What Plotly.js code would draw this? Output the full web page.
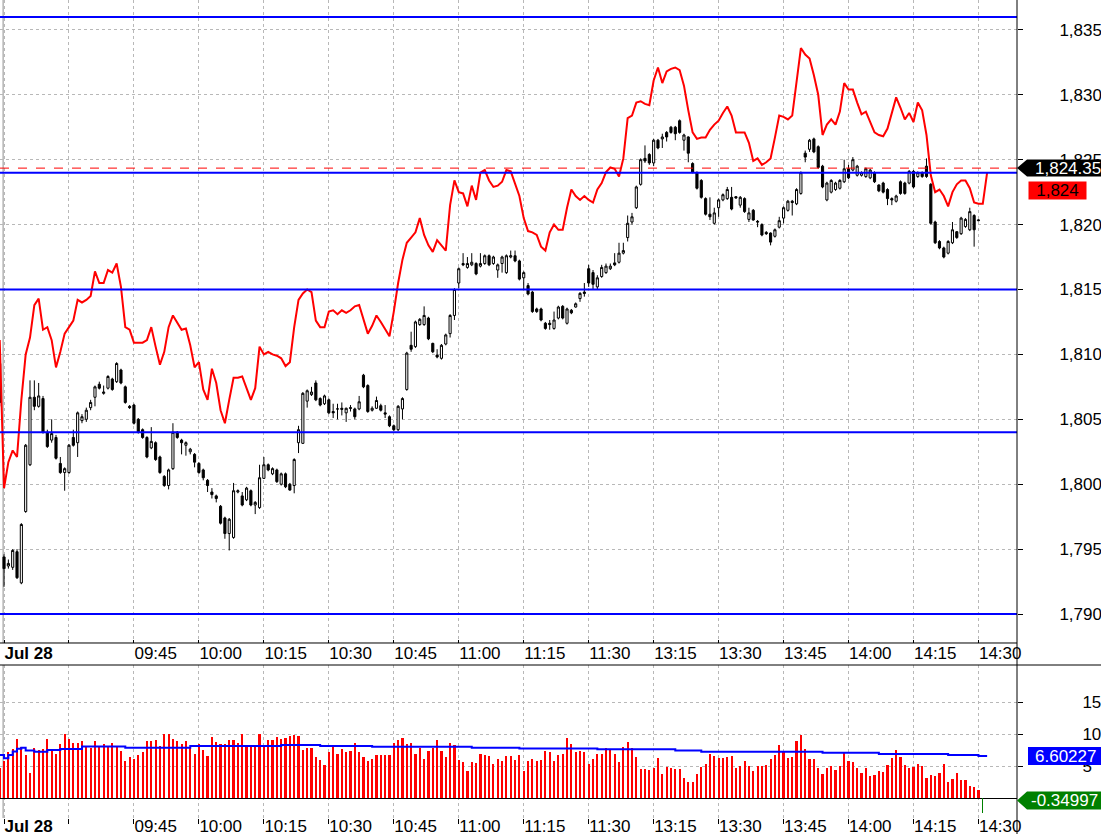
<!DOCTYPE html>
<html><head><meta charset="utf-8">
<script src="https://cdn.plot.ly/plotly-3.0.1.min.js"></script>
<style>html,body{margin:0;padding:0;background:#fff;}#chart{width:1101px;height:834px;}</style>
</head><body><div id="chart"></div>
<script>
// ---- price bars (1-minute), index 0 = last bar of previous session ----
const opens = [1809.3,1794.4,1793.7,1793.6,1794.8,1792.4,1797.9,1801.5,1806.7,1806.0,
1806.6,1804.0,1803.4,1803.6,1801.6,1800.9,1800.9,1803.6,1803.2,1804.9,
1805.0,1805.9,1806.7,1807.7,1807.0,1807.4,1808.1,1807.9,1808.8,1807.5,
1806.0,1806.1,1805.0,1804.2,1803.6,1802.8,1803.2,1802.1,1800.6,1799.9,
1801.2,1804.0,1803.4,1803.0,1802.5,1802.3,1801.6,1801.1,1800.3,1799.4,
1799.1,1798.3,1797.4,1796.2,1795.9,1799.4,1799.1,1798.8,1799.5,1798.4,
1798.2,1800.45,1801.5,1800.8,1801.1,1800.0,1800.8,1800.0,1799.9,1803.2,
1803.15,1806.4,1806.9,1807.8,1806.6,1806.2,1806.5,1805.6,1805.8,1805.85,
1805.5,1805.9,1805.8,1805.8,1808.4,1807.6,1805.7,1805.85,1806.05,1805.5,
1805.2,1804.5,1804.2,1805.8,1807.3,1810.7,1810.6,1812.3,1812.3,1812.8,
1810.85,1809.95,1809.7,1810.8,1811.6,1813.0,1815.5,1817.0,1816.7,1816.9,
1817.0,1816.8,1817.0,1817.6,1817.0,1816.5,1817.0,1816.3,1817.5,1817.6,
1817.2,1815.9,1815.3,1814.8,1813.5,1813.5,1812.4,1812.4,1812.0,1812.8,
1813.7,1812.4,1813.4,1813.65,1814.3,1814.8,1816.6,1816.3,1815.2,1816.0,
1816.3,1816.6,1817.05,1817.1,1817.8,1819.0,1820.2,1821.3,1823.1,1825.1,
1825.4,1824.75,1826.5,1826.6,1827.1,1827.5,1827.5,1828.0,1826.5,1826.75,
1824.7,1824.0,1823.4,1822.0,1820.8,1820.1,1821.3,1821.9,1822.0,1822.1,
1822.15,1821.5,1822.0,1820.4,1821.1,1820.25,1820.0,1819.4,1819.35,1819.1,
1819.8,1820.5,1821.1,1821.8,1821.6,1822.4,1825.5,1825.8,1826.6,1826.0,
1824.5,1821.9,1822.5,1822.7,1822.8,1823.3,1824.3,1824.2,1823.8,1823.8,
1823.7,1823.6,1824.0,1823.05,1823.2,1822.7,1822.0,1821.8,1823.3,1823.2,
1823.2,1824.1,1823.7,1824.0,1824.5,1823.1,1820.2,1818.7,1818.2,1817.8,
1818.6,1819.45,1819.3,1819.85,1819.6,1820.7,1820.3];
const highs = [1809.6,1794.6,1794.2,1795.0,1795.0,1797.0,1803.1,1808.0,1808.0,1807.8,
1806.8,1804.2,1805.0,1803.8,1802.1,1801.3,1803.1,1804.2,1805.6,1805.4,
1805.9,1806.5,1807.6,1807.9,1807.6,1808.4,1808.2,1809.4,1808.9,1807.6,
1806.1,1806.2,1805.1,1804.3,1803.7,1804.4,1803.3,1802.2,1800.7,1801.2,
1804.7,1804.1,1803.5,1803.3,1802.8,1802.4,1801.7,1801.2,1800.4,1799.7,
1799.2,1798.4,1797.5,1797.4,1800.1,1799.6,1799.4,1799.8,1799.6,1798.7,
1801.5,1802.1,1801.6,1801.3,1801.2,1800.9,1800.9,1800.1,1802.0,1804.5,
1807.1,1807.3,1807.5,1808.0,1806.7,1806.9,1806.6,1806.2,1806.2,1806.3,
1805.9,1806.1,1805.9,1806.8,1808.5,1807.7,1806.0,1806.75,1806.2,1806.1,
1805.3,1804.6,1806.1,1806.7,1810.2,1811.75,1812.6,1812.8,1813.7,1812.9,
1810.9,1810.4,1810.8,1811.6,1813.1,1815.1,1816.7,1817.8,1817.5,1817.8,
1817.1,1817.8,1817.7,1817.7,1817.6,1817.0,1817.6,1817.7,1818.0,1818.0,
1817.3,1816.4,1815.5,1814.9,1813.6,1813.6,1812.5,1812.65,1813.3,1813.75,
1813.8,1813.6,1813.5,1814.0,1814.8,1815.5,1816.9,1816.5,1816.1,1816.9,
1817.0,1817.0,1817.8,1818.6,1818.6,1820.7,1820.9,1823.0,1825.1,1826.1,
1825.5,1826.6,1826.6,1827.0,1827.2,1827.6,1827.6,1828.1,1827.0,1826.8,
1824.8,1824.1,1823.5,1822.1,1822.1,1821.3,1822.0,1822.4,1822.9,1822.9,
1822.2,1822.2,1822.1,1821.3,1821.2,1820.35,1820.1,1819.5,1819.4,1819.7,
1820.6,1821.4,1821.9,1821.9,1822.8,1824.1,1825.7,1826.6,1826.7,1826.1,
1824.6,1823.3,1823.5,1823.3,1823.5,1825.0,1824.6,1825.2,1824.6,1824.1,
1824.4,1824.3,1824.1,1823.1,1823.3,1822.8,1822.1,1822.3,1823.4,1823.3,
1824.2,1824.2,1824.1,1824.1,1825.1,1823.2,1820.3,1818.8,1818.3,1818.8,
1820.2,1819.5,1820.6,1820.5,1821.3,1820.8,1820.4];
const lows = [1806.0,1792.1,1793.5,1793.4,1792.7,1792.3,1797.8,1801.4,1805.7,1805.9,
1803.9,1802.8,1803.2,1801.9,1800.8,1799.5,1800.8,1802.9,1802.1,1804.7,
1804.8,1805.7,1806.0,1807.3,1806.9,1807.3,1807.2,1807.8,1807.7,1806.2,
1805.8,1804.6,1803.9,1803.5,1802.0,1802.7,1801.8,1800.8,1799.8,1799.6,
1801.1,1803.5,1802.3,1802.2,1802.3,1801.3,1800.8,1800.3,1799.4,1798.9,
1798.6,1796.9,1795.8,1794.9,1795.8,1799.3,1798.3,1798.7,1798.3,1797.7,
1798.1,1800.4,1801.0,1800.7,1800.1,1799.9,1799.7,1799.5,1799.3,1802.4,
1803.1,1805.9,1806.8,1806.4,1806.0,1806.1,1805.4,1805.1,1805.0,1805.3,
1804.8,1805.6,1805.0,1805.7,1807.4,1805.5,1805.6,1805.8,1805.6,1805.1,
1804.4,1804.1,1804.1,1805.0,1807.2,1810.2,1810.5,1812.2,1812.2,1811.1,
1810.1,1809.7,1809.6,1810.7,1811.3,1812.65,1815.1,1816.8,1816.6,1816.8,
1816.1,1816.7,1816.9,1816.8,1816.9,1815.9,1816.3,1816.2,1817.4,1817.1,
1815.7,1815.0,1814.55,1813.2,1813.2,1812.55,1811.9,1811.9,1811.9,1812.7,
1812.7,1812.3,1813.1,1813.6,1814.05,1814.45,1815.2,1815.0,1815.0,1815.9,
1816.2,1816.5,1816.8,1817.0,1817.7,1818.7,1820.0,1821.2,1823.0,1824.75,
1824.6,1824.5,1825.8,1825.9,1826.4,1827.0,1826.5,1827.0,1825.7,1824.8,
1823.95,1822.7,1822.0,1820.7,1820.35,1820.0,1820.6,1821.8,1821.9,1821.1,
1822.0,1821.3,1820.9,1820.2,1820.3,1819.8,1819.1,1819.2,1818.4,1819.0,
1819.7,1820.1,1821.0,1820.7,1821.5,1822.3,1824.8,1825.6,1825.5,1824.3,
1822.8,1821.8,1822.4,1822.6,1822.7,1823.2,1823.5,1824.1,1823.7,1823.7,
1823.6,1823.5,1823.2,1822.5,1822.4,1821.5,1821.5,1821.7,1822.3,1822.3,
1823.1,1822.8,1823.6,1823.6,1823.6,1820.0,1818.5,1818.1,1817.4,1817.7,
1818.5,1818.9,1819.2,1819.75,1819.5,1818.3,1820.25];
const closes = [1806.3,1793.5,1793.9,1794.9,1792.8,1796.9,1803.0,1806.7,1806.0,1806.8,
1804.0,1802.9,1803.9,1802.0,1800.9,1801.2,1803.0,1803.0,1805.5,1805.2,
1805.7,1806.3,1807.5,1807.4,1807.1,1808.3,1807.3,1809.3,1807.8,1806.3,
1805.9,1804.7,1804.0,1803.6,1802.1,1803.3,1801.9,1800.9,1799.9,1801.1,
1804.0,1803.6,1803.2,1803.2,1802.7,1801.7,1800.9,1800.5,1799.9,1799.2,
1798.9,1797.0,1796.2,1797.3,1799.5,1799.5,1798.4,1799.7,1798.4,1798.6,
1800.5,1801.5,1801.1,1801.2,1800.2,1800.8,1799.8,1799.55,1801.9,1804.2,
1807.0,1807.2,1807.1,1806.5,1806.1,1806.8,1805.5,1805.5,1805.8,1805.77,
1805.85,1805.85,1805.2,1806.35,1807.5,1805.6,1805.85,1806.45,1805.7,1805.4,
1804.5,1804.2,1806.0,1806.6,1810.1,1810.4,1812.5,1812.7,1813.0,1811.2,
1810.2,1809.8,1810.7,1811.5,1813.0,1815.0,1816.6,1816.9,1817.0,1817.1,
1816.2,1817.0,1817.6,1816.9,1817.5,1816.9,1817.5,1817.6,1817.6,1817.2,
1815.8,1816.3,1814.65,1813.3,1813.3,1812.65,1812.0,1812.3,1812.65,1813.65,
1812.8,1813.5,1813.2,1813.9,1814.7,1814.7,1815.5,1815.4,1815.9,1816.7,
1816.8,1816.8,1816.9,1817.8,1818.0,1820.1,1820.6,1822.9,1825.0,1824.9,
1824.75,1826.5,1825.9,1826.75,1826.75,1827.1,1827.0,1827.1,1826.9,1825.5,
1824.05,1822.8,1822.1,1820.8,1820.6,1820.9,1821.9,1822.3,1822.7,1821.2,
1822.05,1822.1,1821.0,1820.9,1820.35,1820.2,1819.2,1819.3,1818.65,1819.6,
1820.3,1821.3,1821.8,1821.7,1822.7,1824.0,1825.2,1826.5,1825.6,1824.4,
1822.9,1823.2,1823.4,1823.2,1823.4,1824.3,1823.6,1825.0,1824.5,1824.0,
1824.3,1824.2,1823.3,1822.6,1822.5,1822.0,1821.9,1822.2,1822.4,1822.4,
1824.1,1822.9,1824.0,1823.7,1823.7,1820.1,1818.6,1818.2,1817.5,1818.7,
1819.6,1819.0,1820.5,1820.4,1821.0,1819.6,1820.35];

// ---- comparison line (red) ----
const compareLine = [1811.1,1799.7,1801.7,1802.6,1802.1,1806.5,1810.0,1811.3,1813.8,1814.3,
1811.9,1812.1,1811.1,1809.0,1810.2,1811.6,1812.1,1812.6,1814.2,1814.0,
1814.2,1814.5,1816.4,1815.5,1815.5,1816.5,1816.3,1817.0,1815.2,1812.1,
1811.9,1810.9,1810.9,1810.9,1811.1,1812.1,1810.6,1809.2,1810.2,1812.1,
1813.0,1812.5,1811.9,1812.0,1810.7,1809.0,1809.4,1807.3,1806.5,1808.9,
1807.8,1805.7,1804.7,1806.5,1808.2,1808.2,1808.3,1807.4,1806.5,1807.4,
1810.6,1810.0,1810.2,1810.0,1809.9,1809.7,1809.1,1809.4,1812.1,1814.2,
1814.7,1815.0,1814.8,1812.6,1812.1,1812.1,1813.3,1813.4,1813.1,1813.4,
1813.2,1813.4,1813.7,1813.8,1812.6,1811.6,1812.2,1813.0,1812.5,1811.9,
1811.4,1813.3,1815.5,1817.3,1818.6,1819.0,1819.4,1820.5,1819.2,1818.4,
1817.9,1818.8,1818.4,1818.0,1821.5,1823.4,1822.5,1822.4,1821.4,1823.0,
1821.9,1824.0,1824.2,1823.4,1822.9,1823.0,1823.3,1824.2,1824.1,1823.2,
1822.2,1820.5,1819.5,1819.4,1819.2,1818.3,1818.0,1819.4,1820.0,1819.6,
1819.6,1821.3,1822.7,1822.2,1821.9,1822.2,1821.9,1821.7,1822.7,1823.2,
1824.05,1824.4,1824.3,1823.7,1825.1,1828.2,1828.4,1829.4,1829.5,1829.3,
1829.2,1831.1,1832.1,1830.9,1831.8,1832.0,1832.1,1831.9,1830.7,1828.8,
1827.1,1826.6,1826.7,1826.7,1827.3,1827.7,1828.0,1828.6,1829.1,1828.4,
1827.1,1827.1,1827.1,1826.3,1824.9,1825.1,1824.6,1824.8,1825.1,1826.7,
1828.4,1828.3,1828.1,1828.4,1831.0,1833.6,1833.1,1832.8,1831.5,1830.0,
1826.9,1827.7,1828.1,1827.7,1828.7,1830.9,1830.4,1830.4,1829.4,1828.5,
1828.7,1827.9,1827.1,1826.9,1826.8,1827.4,1828.7,1829.8,1829.0,1828.1,
1828.6,1827.9,1829.4,1828.8,1826.9,1823.8,1822.5,1822.7,1822.2,1821.4,
1822.5,1823.1,1823.4,1823.4,1822.8,1821.7,1821.6,1821.6,1824.0];

// ---- volume (lower panel) ----
const volumes = [4.7,5.9,7.2,7.7,9.3,8.0,6.8,3.9,7.9,7.6,
7.7,9.3,7.7,6.9,8.5,10.0,9.3,8.7,8.7,8.9,
8.2,7.9,8.9,8.0,8.5,8.1,8.6,8.0,7.4,5.8,
6.5,6.2,6.7,7.3,8.9,8.9,9.1,8.2,10.0,10.0,
9.3,8.9,8.5,8.9,7.9,7.0,8.5,7.6,6.6,9.6,
8.8,8.5,8.5,9.1,9.1,8.6,10.0,8.2,8.2,8.3,
10.1,8.1,9.1,9.1,9.6,9.2,9.4,9.7,9.9,9.8,
7.6,7.8,7.8,6.4,6.0,5.2,7.3,8.2,7.0,7.7,
7.3,7.4,8.6,7.3,6.4,5.8,6.2,6.8,6.8,6.8,
6.8,8.6,9.1,9.4,8.5,8.6,6.9,7.8,6.2,7.4,
7.8,9.1,7.4,6.4,8.6,8.3,6.0,5.6,4.3,5.6,
5.5,6.9,6.8,6.6,5.4,6.2,5.9,6.6,6.6,6.0,
6.8,4.2,
5.9,6.2,5.9,6.0,7.4,7.2,5.9,6.8,6.9,9.4,
8.5,7.2,7.4,7.2,5.4,6.2,6.9,7.0,7.8,7.6,
7.0,5.7,8.0,8.8,7.8,6.5,4.5,4.5,4.4,4.7,
6.3,3.8,4.9,4.8,4.5,4.5,3.1,2.6,2.5,3.8,
4.9,5.4,7.0,6.6,6.3,6.3,6.5,6.6,4.7,5.1,
5.9,5.1,4.2,5.0,5.0,5.2,6.2,6.7,8.3,7.3,
6.3,6.5,8.9,9.9,7.7,6.2,6.1,4.7,3.8,4.7,
5.1,4.4,5.1,7.2,5.9,5.7,4.8,3.9,4.7,3.5,
3.6,4.2,4.1,5.2,6.3,7.6,6.4,5.2,4.8,4.9,
5.4,5.0,3.2,3.6,3.5,4.0,5.4,2.5,3.0,3.9,
2.9,2.8,1.9,1.8,1.3];
// volume average (blue step line): bar index where value changes, and value
const volAvgIdx = [0,1,2,3,4,5,6,8,11,14,19,29,44,65,74,86,109,120,138,156,162,190,203,219,226,228];
const volAvgVal = [6.77,6.24,6.77,7.3,7.76,7.91,7.45,7.29,7.55,7.7,8.1,7.91,8.17,8.33,8.17,8.07,7.91,7.78,7.65,7.45,7.29,7.13,6.93,6.77,6.6,6.6];
const volAvgLast = 6.60227;
// oscillator (green) last bar
const oscBars = [-2.3];
const oscLast = -0.34997;

// ---- levels & labels ----
const levels = [1836, 1824, 1815, 1804, 1790];
const lastPrice = 1824.35;
const dayStartIdx = 1;
const timeTickIdx = [1,16,31,46,61,76,91,106,121,136,151,166,181,196,211,226];
const timeTickText = ['<b>Jul 28</b>','','09:45','10:00','10:15','10:30','10:45','11:00','11:15','11:30','13:15','13:30','13:45','14:00','14:15','14:30'];
const priceTicks = [1790,1795,1800,1805,1810,1815,1820,1825,1830,1835];
const volTicks = [5,10,15];

// ---------- build ----------
const idx = opens.map((_, i) => i);
const FONT = 'Liberation Sans, Arial, sans-serif';
const W = 1101, H = 834, PW = 1017;
const gridC = '#b8b8b8';
const xr = [0.07, 234.9];
const yr = [1787.77, 1837.30];
const y2r = [-3.08, 20.83];
const mainDom = [0.21394, 1];
const lowDom = [0, 0.18704];

const traces = [
  {type:'bar', x: idx, y: volumes, xaxis:'x2', yaxis:'y2', width:0.5,
   marker:{color:'#ff0000', line:{width:0}}, hoverinfo:'skip'},
  {type:'bar', x: oscBars.map((_, k) => volumes.length + k), y: oscBars, xaxis:'x2', yaxis:'y2', width:0.3,
   marker:{color:'#008000', line:{width:0}}, hoverinfo:'skip'},
  {type:'scatter', mode:'lines', x: volAvgIdx, y: volAvgVal, xaxis:'x2', yaxis:'y2',
   line:{color:'#0000ff', width:2, shape:'hv'}, hoverinfo:'skip'},
  {type:'candlestick', x: idx, open: opens, high: highs, low: lows, close: closes,
   xaxis:'x', yaxis:'y', whiskerwidth:0,
   increasing:{line:{color:'#000000', width:1}, fillcolor:'#ffffff'},
   decreasing:{line:{color:'#000000', width:1}, fillcolor:'#000000'}, hoverinfo:'skip'},
  {type:'scatter', mode:'lines', x: compareLine.map((_, i) => i), y: compareLine, xaxis:'x', yaxis:'y',
   line:{color:'#ff0000', width:2}, hoverinfo:'skip'}
];

const shapes = [];
// day separator
shapes.push({type:'line', xref:'x', yref:'paper', x0:dayStartIdx-0.2, x1:dayStartIdx-0.2, y0:mainDom[0], y1:1, line:{color:'#b4b4b4', width:1.5}, layer:'below'});
shapes.push({type:'line', xref:'x2', yref:'paper', x0:dayStartIdx-0.2, x1:dayStartIdx-0.2, y0:0, y1:lowDom[1], line:{color:'#b4b4b4', width:1.5}, layer:'below'});
// horizontal blue levels
levels.forEach(v => shapes.push({type:'line', xref:'paper', yref:'y', x0:0, x1:1, y0:v, y1:v, line:{color:'#0000ff', width:2}}));
// last price dashed
shapes.push({type:'line', xref:'paper', yref:'y', x0:0, x1:1, y0:lastPrice, y1:lastPrice, line:{color:'#ff0000', width:1, dash:'dash'}});
// frame lines
shapes.push({type:'line', xref:'paper', yref:'paper', x0:1, x1:1, y0:-16/818, y1:1, line:{color:'#000', width:1}});
shapes.push({type:'line', xref:'paper', yref:'paper', x0:0, x1:W/PW, y0:lowDom[1], y1:lowDom[1], line:{color:'#000', width:1}});
shapes.push({type:'line', xref:'paper', yref:'paper', x0:0, x1:1, y0:mainDom[0], y1:mainDom[0], line:{color:'#000', width:1}});
// value flags
shapes.push({type:'path', xref:'paper', yref:'y', xsizemode:'pixel', ysizemode:'pixel', xanchor:1, yanchor:lastPrice,
  path:'M0,0 L10,8.5 L100,8.5 L100,-8.5 L10,-8.5 Z', fillcolor:'#000000', line:{width:0}});
shapes.push({type:'path', xref:'paper', yref:'y2', xsizemode:'pixel', ysizemode:'pixel', xanchor:1, yanchor:oscLast,
  path:'M0,0 L10,9 L100,9 L100,-9 L10,-9 Z', fillcolor:'#008000', line:{width:0}});
shapes.push({type:'path', xref:'paper', yref:'y2', xsizemode:'pixel', ysizemode:'pixel', xanchor:1, yanchor:volAvgLast,
  path:'M11,9 L100,9 L100,-9 L11,-9 Z', fillcolor:'#0000ff', line:{width:0}});

const fmt2 = v => v.toLocaleString('en-US', {minimumFractionDigits:2, maximumFractionDigits:2});
const compareLast = compareLine[compareLine.length - 1];
const annotations = [
  {xref:'paper', yref:'y', x:1, xshift:16, xanchor:'left', y:lastPrice, yanchor:'middle', showarrow:false,
   text: fmt2(lastPrice), font:{family:FONT, size:17, color:'#ffffff'}},
  {xref:'paper', yref:'y', x:1, xshift:11, xanchor:'left', y:compareLast, yshift:-17.5, yanchor:'middle', showarrow:false,
   text: Math.round(compareLast).toLocaleString('en-US'), font:{family:FONT, size:17, color:'#000000'},
   bgcolor:'#ff0000', width:57, height:17, borderpad:0},
  {xref:'paper', yref:'y2', x:1, xshift:16, xanchor:'left', y:volAvgLast, yanchor:'middle', showarrow:false,
   text: volAvgLast.toFixed(5), font:{family:FONT, size:17, color:'#ffffff'}},
  {xref:'paper', yref:'y2', x:1, xshift:12, xanchor:'left', y:oscLast, yanchor:'middle', showarrow:false,
   text: oscLast.toFixed(5), font:{family:FONT, size:17, color:'#ffffff'}}
];

const xCommon = {
  range: xr, tickmode:'array', tickvals: timeTickIdx, ticktext: timeTickText,
  showgrid:true, gridcolor:gridC, griddash:'dot', gridwidth:1, zeroline:false,
  tickcolor:'#000', tickfont:{family:FONT, size:17, color:'#000'}, ticklabelposition:'outside right',
  fixedrange:true
};
const layout = {
  width:W, height:H, margin:{l:0, r:W-PW, t:0, b:16}, paper_bgcolor:'#fff', plot_bgcolor:'#fff',
  showlegend:false, bargap:0,
  xaxis: Object.assign({}, xCommon, {anchor:'y', domain:[0,1], ticks:'inside', ticklen:3, showline:false,
     ticklabelstandoff:-2, rangeslider:{visible:false}}),
  xaxis2: Object.assign({}, xCommon, {anchor:'y2', domain:[0,1], ticks:'outside', ticklen:5, showline:false,
     ticklabelstandoff:-7}),
  yaxis: {anchor:'x', domain: mainDom, side:'right', range: yr, tickmode:'array', tickvals: priceTicks,
     tickformat:',d', showgrid:true, gridcolor:gridC, griddash:'dot', zeroline:false, showline:false,
     ticks:'outside', ticklen:5, tickcolor:'#000', ticklabelstandoff:33,
     tickfont:{family:FONT, size:17, color:'#000'}, fixedrange:true},
  yaxis2: {anchor:'x2', domain: lowDom, side:'right', range: y2r, tickmode:'array', tickvals: volTicks,
     showgrid:true, gridcolor:gridC, griddash:'dot', zeroline:true, zerolinecolor:'#000', zerolinewidth:1,
     showline:false, ticks:'outside', ticklen:5, tickcolor:'#000', ticklabelstandoff:56,
     tickfont:{family:FONT, size:17, color:'#000'}, fixedrange:true},
  shapes: shapes, annotations: annotations
};
Plotly.newPlot('chart', traces, layout, {staticPlot:true, displayModeBar:false});
</script></body></html>
